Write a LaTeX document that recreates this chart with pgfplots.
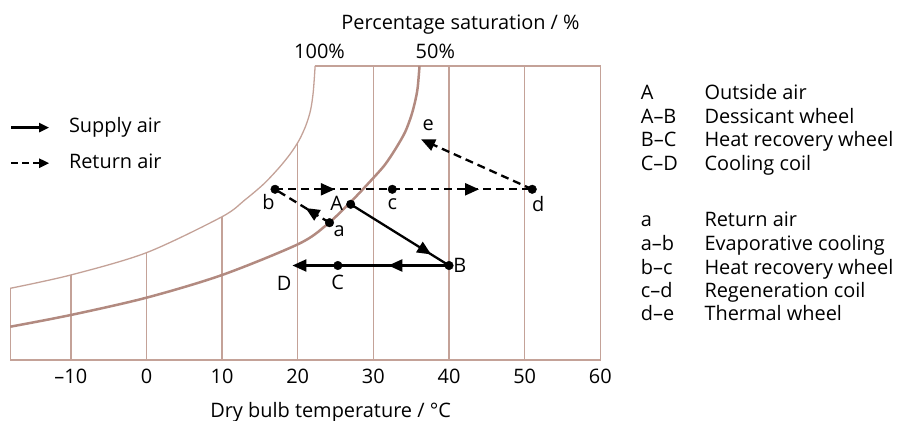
\documentclass[border=0pt]{standalone}
\usepackage{fontspec}
\setmainfont{Open Sans}
\usepackage{pgfplots}
\pgfplotsset{compat=1.18}
\usetikzlibrary{arrows.meta,decorations.markings}
\definecolor{frame}{RGB}{196,162,152}
\definecolor{curve}{RGB}{178,138,128}
\newcommand\ff{\fontsize{20}{24}\selectfont}
\tikzset{
  tip/.style={-{Triangle[length=14bp,width=12bp]}},
  midarrow/.style={postaction={decorate},decoration={markings,mark=at position #1 with {\arrow{Triangle[length=14bp,width=12bp]}}}},
  proc/.style={black,line width=2.3bp},
  ret/.style={black,line width=2.3bp,dash pattern=on 8bp off 5bp},
}
\begin{document}
\begin{tikzpicture}[font=\ff]
\useasboundingbox (-10.3bp,-61bp) rectangle (887.7bp,360bp);
\begin{axis}[
  at={(0,0)}, anchor=south west,
  scale only axis, width=590bp, height=294bp,
  xmin=-18, xmax=60, ymin=0, ymax=294,
  axis line style={draw=none},
  xtick={-10,0,10,20,30,40,50,60},
  xticklabels={\textendash10,0,10,20,30,40,50,60},
  ytick=\empty,
  major tick length=0pt,
  tick style={draw=none},
  xticklabel style={anchor=base, yshift=-23.3bp, font=\ff, inner sep=0pt},
  clip=false,
  legend cell align=left,
  legend image code/.code={\draw[#1] (0bp,0bp) -- (38bp,0bp);},
  legend style={draw=none, fill=none, inner sep=0pt, outer sep=0pt,
    at={(axis description cs:-0.0005,0.8245)}, anchor=north west,
    row sep=15.6bp, column sep=18.7bp,
    nodes={inner sep=0pt, text height=15bp, text depth=5bp, font=\ff}},
]
% frame and grid
\addplot[frame, line width=1.4bp, forget plot] coordinates {(-18,71.7) (-18,0) (60,0) (60,294) (22.3,294)};
\addplot[frame, line width=1.4bp, forget plot] coordinates {(-10,0) (-10,85)};
\addplot[frame, line width=1.4bp, forget plot] coordinates {(0,0) (0,107.3)};
\addplot[frame, line width=1.4bp, forget plot] coordinates {(10,0) (10,143.3)};
\addplot[frame, line width=1.4bp, forget plot] coordinates {(20,0) (20,218)};
\addplot[frame, line width=1.4bp, forget plot] coordinates {(30,0) (30,294)};
\addplot[frame, line width=1.4bp, forget plot] coordinates {(40,0) (40,294)};
\addplot[frame, line width=1.4bp, forget plot] coordinates {(50,0) (50,294)};
% 100% saturation curve
\addplot[frame, line width=1.3bp, smooth, forget plot] coordinates {
 (-18,71.7) (-10,85) (0,107.3) (10,143.3) (13,160) (15.5,176) (17.5,192) (19,206) (20.2,220) (21.1,235) (21.7,250) (22.05,268) (22.3,294)};
% 50% saturation curve
\addplot[curve, line width=2.5bp, smooth, forget plot] coordinates {
 (-18,33.3) (-10,45) (0,62.3) (10,85) (20.1,116) (23.8,135) (27,158) (29.5,178) (31.5,195) (33,212) (34.2,228) (35,244) (35.5,258) (35.85,272) (36.1,294)};
% supply air
\addplot[proc, midarrow=0.82, forget plot] coordinates {(27.0,155.7) (40.0,94.5)};
\addplot[proc, midarrow=0.546, forget plot] coordinates {(40.0,94.5) (25.3,94.5)};
\addplot[proc, tip, forget plot] coordinates {(25.3,94.5) (19.3,94.5)};
% return air
\addplot[ret, midarrow=0.44, forget plot] coordinates {(24.2,137.3) (17.0,170.7)};
\addplot[ret, midarrow=0.51, forget plot] coordinates {(17.0,170.7) (32.5,170.7)};
\addplot[ret, midarrow=0.62, forget plot] coordinates {(32.5,170.7) (51.0,170.7)};
\addplot[ret, tip, forget plot] coordinates {(51.0,170.7) (36.3,220.7)};
% state points
\addplot[only marks, mark=*, mark size=4.3bp, black, forget plot] coordinates {
 (27.0,155.7) (40.0,94.5) (25.3,94.5) (24.2,137.3) (17.0,170.7) (32.5,170.7) (51.0,170.7)};
% point labels
\node[anchor=base] at (axis cs:25.15,149.7) {A};
\node[anchor=base] at (axis cs:41.44,87.7) {B};
\node[anchor=base] at (axis cs:25.28,70) {C};
\node[anchor=base] at (axis cs:18.19,69.7) {D};
\node[anchor=base] at (axis cs:25.47,123.6) {a};
\node[anchor=base] at (axis cs:16.12,150.7) {b};
\node[anchor=base] at (axis cs:32.5,150.3) {c};
\node[anchor=base] at (axis cs:51.78,148.1) {d};
\node[anchor=base] at (axis cs:37.25,229.6) {e};
% legend
\addlegendimage{black, line width=2.3bp, -{Triangle[length=10bp,width=9bp]}}
\addlegendentry{Supply air}
\addlegendimage{black, line width=2.3bp, dash pattern=on 7bp off 4bp, -{Triangle[length=10bp,width=9bp]}}
\addlegendentry{Return air}
\end{axis}
% titles
\node[anchor=base] at (450.2bp,330.7bp) {Percentage saturation / \%};
\node[anchor=base] at (309.2bp,301.7bp) {100\%};
\node[anchor=base] at (425bp,301.7bp) {50\%};
\node[anchor=base] at (320.3bp,-57.3bp) {Dry bulb temperature / °C};
% key on the right
\foreach \y/\k/\t in {260.5/A/Outside air, 236.5/A\textendash B/Dessicant wheel, 213.2/B\textendash C/Heat recovery wheel, 189.9/C\textendash D/Cooling coil, 133.2/a/Return air, 109.9/a\textendash b/Evaporative cooling, 85.9/b\textendash c/Heat recovery wheel, 62.5/c\textendash d/Regeneration coil, 39.2/d\textendash e/Thermal wheel}{
  \node[anchor=base west, inner sep=0pt] at (630.4bp,\y bp) {\k};
  \node[anchor=base west, inner sep=0pt] at (694bp,\y bp) {\t};
}
\end{tikzpicture}
\end{document}
